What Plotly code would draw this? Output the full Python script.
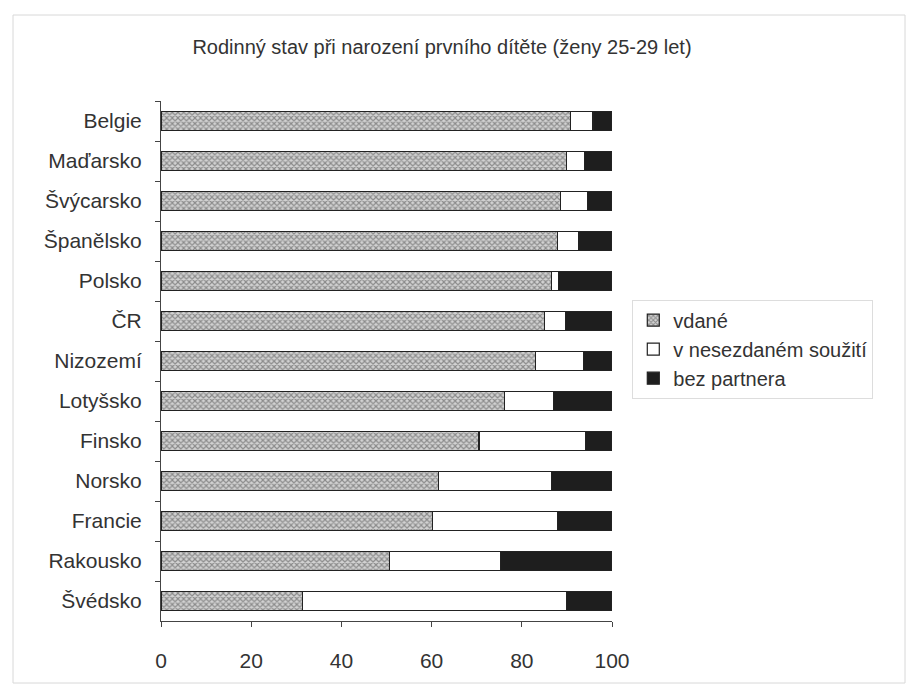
import plotly.graph_objects as go

countries = ["Belgie", "Maďarsko", "Švýcarsko", "Španělsko", "Polsko", "ČR", "Nizozemí",
             "Lotyšsko", "Finsko", "Norsko", "Francie", "Rakousko", "Švédsko"]
vdane = [90.8, 89.9, 88.5, 87.9, 86.6, 85.1, 83.1, 76.1, 70.5, 61.6, 60.2, 50.6, 31.3]
nesezdane = [5.0, 4.0, 6.1, 4.8, 1.5, 4.5, 10.5, 10.9, 23.7, 25.0, 27.7, 24.6, 58.6]
bez_partnera = [round(100 - a - b, 1) for a, b in zip(vdane, nesezdane)]
x_ticks = [0, 20, 40, 60, 80, 100]

font_family = "Liberation Sans, Arial, sans-serif"

fig = go.Figure()
fig.add_trace(go.Bar(
    y=countries, x=vdane, orientation="h", name="vdané",
    marker=dict(color="#cfcfcf", line=dict(color="#222", width=1.2),
                pattern=dict(shape="x", fgcolor="#444444", bgcolor="#d2d2d2", size=4, solidity=0.5)),
))
fig.add_trace(go.Bar(
    y=countries, x=nesezdane, orientation="h", name="v nesezdaném soužití",
    marker=dict(color="white", line=dict(color="#222", width=1.2)),
))
fig.add_trace(go.Bar(
    y=countries, x=bez_partnera, orientation="h", name="bez partnera",
    marker=dict(color="#1e1e1e", line=dict(color="#222", width=1.2)),
))

fig.update_layout(
    barmode="stack",
    bargap=0.52,
    width=916, height=686,
    margin=dict(l=153, r=312, t=93, b=73),
    paper_bgcolor="white", plot_bgcolor="white",
    font=dict(family=font_family, size=21, color="#333"),
    title=dict(text="Rodinný stav při narození prvního dítěte (ženy 25-29 let)",
               x=434 / 916, xref="container", xanchor="center",
               y=1 - 39 / 686, yref="container", yanchor="middle",
               font=dict(size=20, color="#333", family=font_family)),
    legend=dict(x=1.045, xanchor="left", y=0.618, yanchor="top",
                traceorder="normal", font=dict(size=20, color="#333"),
                bordercolor="#dddddd", borderwidth=1, bgcolor="rgba(255,255,255,0)",
                itemwidth=30, tracegroupgap=0),
    showlegend=True,
)
fig.update_xaxes(range=[0, 100], tickvals=x_ticks, ticks="outside", ticklen=5,
                 tickcolor="#444", showline=True, linecolor="#444", linewidth=1,
                 showgrid=False, zeroline=False, fixedrange=True,
                 ticklabelstandoff=16)
fig.update_yaxes(categoryorder="array", categoryarray=countries, autorange="reversed",
                 ticks="outside", tickson="boundaries", ticklen=5, tickcolor="#444",
                 showline=True, linecolor="#444", linewidth=1, showgrid=False,
                 ticklabelstandoff=14)

# faint outer frame
fig.add_shape(type="rect", xref="paper", yref="paper",
              x0=-148 / 451, x1=(905 - 161) / 451, y0=-62 / 520, y1=(621 - 15) / 520,
              line=dict(color="#d8d8d8", width=1), fillcolor="rgba(0,0,0,0)", layer="below")

fig.write_html("out.html")
